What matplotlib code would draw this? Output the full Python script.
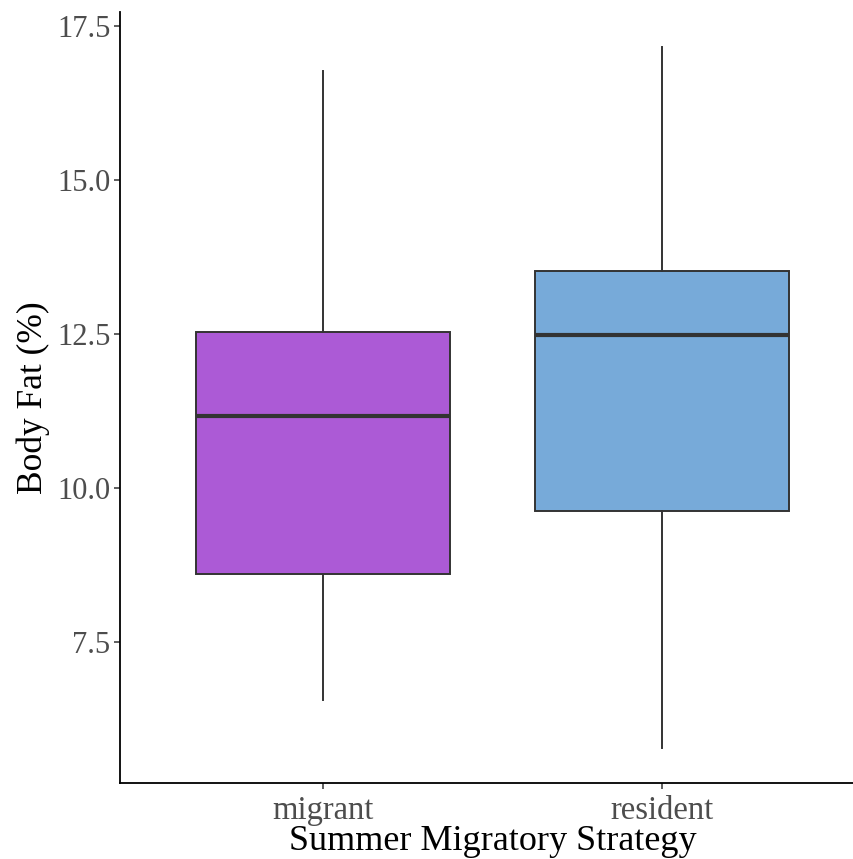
import matplotlib.pyplot as plt

# summary stats
groups = ["migrant", "resident"]
whisker_low = [6.56, 5.78]
q1 = [8.60, 9.63]
medians = [11.17, 12.48]
q3 = [12.53, 13.52]
whisker_high = [16.77, 17.16]
colors = ["#AC5AD6", "#77AAD9"]

plt.rcParams['font.family'] = ['Liberation Serif', 'DejaVu Serif']

fig = plt.figure(figsize=(8.54, 8.59), dpi=100)
ax = fig.add_axes([120 / 854, 76 / 859, 745 / 854, 771 / 859])

stats = []
for i, g in enumerate(groups):
    stats.append({
        'label': g,
        'whislo': whisker_low[i],
        'q1': q1[i],
        'med': medians[i],
        'q3': q3[i],
        'whishi': whisker_high[i],
        'fliers': [],
    })

bp = ax.bxp(stats, positions=[1, 2], widths=0.75, patch_artist=True,
            showcaps=False,
            boxprops=dict(edgecolor='#333333', linewidth=1.4),
            whiskerprops=dict(color='#333333', linewidth=1.4),
            medianprops=dict(color='#333333', linewidth=3))
for patch, c in zip(bp['boxes'], colors):
    patch.set_facecolor(c)

ax.set_xlim(0.4, 2.6)
ax.set_ylim(5.21, 17.73)
ax.set_yticks([7.5, 10.0, 12.5, 15.0, 17.5])
ax.set_yticklabels(["7.5", "10.0", "12.5", "15.0", "17.5"])
ax.set_xticks([1, 2])
ax.set_xticklabels(groups)

for side in ['top', 'right']:
    ax.spines[side].set_visible(False)
for side in ['left', 'bottom']:
    ax.spines[side].set_linewidth(1.3)
    ax.spines[side].set_color('black')

ax.tick_params(axis='both', labelcolor='#4D4D4D',
               color='#333333', length=4, width=1.1)
ax.tick_params(axis='y', labelsize=22, pad=3)
ax.tick_params(axis='x', labelsize=23.5, pad=5)

ax.set_xlabel("Summer Migratory Strategy", fontsize=26, color='black', labelpad=-1)
ax.set_ylabel("Body Fat (%)", fontsize=25.5, color='black', labelpad=5)

plt.savefig('out.png', dpi=100)
